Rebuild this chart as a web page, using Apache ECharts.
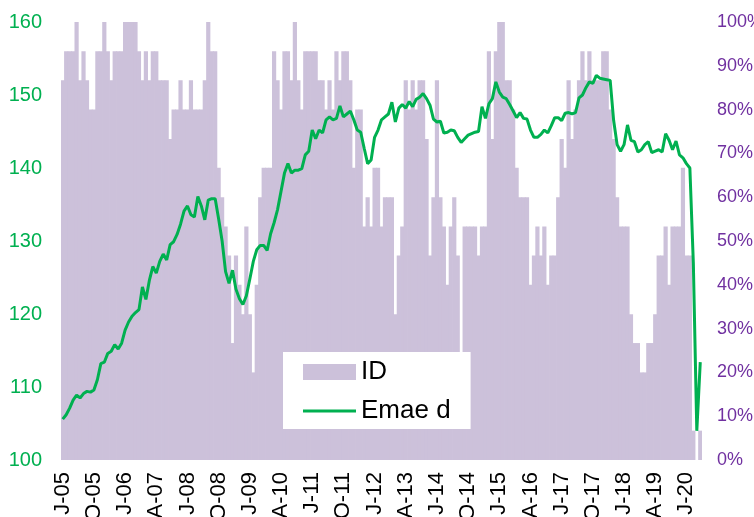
<!DOCTYPE html>
<html>
<head>
<meta charset="utf-8">
<script src="https://cdn.jsdelivr.net/npm/echarts@6/dist/echarts.min.js"></script>
<style>
html,body{margin:0;padding:0;background:#fff;}
#chart{width:754px;height:517px;}
</style>
</head>
<body>
<div id="chart"></div>
<script>
// Month categories Jan-2005 .. May-2020 (first letter of month + 2-digit year)
const monthLetters = ['J','F','M','A','M','J','J','A','S','O','N','D'];
const startYear = 2005;
const monthCount = 185;
const categories = [];
for (let k = 0; k < monthCount; k++) {
  const yy = (startYear + Math.floor(k / 12)) % 100;
  categories.push(monthLetters[k % 12] + '-' + String(yy).padStart(2, '0'));
}

// ID (diffusion index, %), right axis
const idValues = [
  86.7,93.3,93.3,93.3,100,86.7,93.3,86.7,80,80,
  93.3,93.3,100,93.3,86.7,93.3,93.3,93.3,100,100,
  100,100,93.3,86.7,93.3,86.7,93.3,93.3,86.7,86.7,
  86.7,73.3,80,80,86.7,80,80,86.7,80,80,
  80,86.7,100,93.3,93.3,66.7,60,53.3,46.7,26.7,
  46.7,40,33.3,53.3,33.3,20,40,60,66.7,66.7,
  66.7,93.3,86.7,80,93.3,93.3,86.7,100,86.7,80,
  93.3,93.3,93.3,93.3,86.7,86.7,80,86.7,80,93.3,
  86.7,93.3,93.3,86.7,66.7,80,80,53.3,60,53.3,
  66.7,66.7,53.3,60,60,60,33.3,46.7,53.3,86.7,
  80,86.7,80,86.7,86.7,73.3,46.7,60,86.7,60,
  53.3,40,53.3,60,46.7,20,53.3,53.3,53.3,53.3,
  46.7,53.3,53.3,93.3,73.3,93.3,100,100,86.7,86.7,
  80,66.7,60,60,60,40,46.7,53.3,46.7,53.3,
  40,46.7,46.7,60,73.3,66.7,86.7,73.3,80,86.7,
  93.3,86.7,93.3,86.7,86.7,86.7,93.3,93.3,80,73.3,
  60,53.3,53.3,53.3,33.3,26.7,26.7,20,20,26.7,
  26.7,33.3,46.7,46.7,53.3,40,53.3,53.3,53.3,66.7,
  46.7,46.7,6.7,0,6.7
];

// Emae desestacionalizado, left axis
const emaeValues = [
  105.6,106.2,107.1,108.2,108.9,108.5,109.1,109.4,109.3,109.6,
  111.0,113.2,113.4,114.6,114.9,115.8,115.2,116.0,117.8,118.9,
  119.7,120.2,120.6,123.7,122.0,124.6,126.5,125.6,127.2,128.2,
  127.4,129.5,129.9,130.9,132.3,134.1,134.8,133.6,133.3,136.1,
  134.8,132.9,135.6,135.8,135.8,133.0,130.0,125.8,124.2,126.0,
  123.4,122.1,121.3,122.5,124.8,127.2,128.8,129.4,129.4,128.7,
  131.0,132.5,134.3,136.8,139.3,140.6,139.3,139.7,139.7,139.9,
  141.8,142.3,145.2,144.0,145.2,144.8,146.6,147.0,146.6,146.8,
  148.5,147.0,147.4,147.8,146.6,145.2,144.9,142.7,140.6,141.1,
  144.2,145.2,146.6,147.0,147.4,149.0,146.3,148.2,148.7,148.2,
  149.1,148.4,149.4,149.7,150.2,149.5,148.6,146.7,146.3,146.4,
  144.8,144.9,145.2,145.1,144.2,143.5,144.0,144.5,144.7,144.9,
  145.0,148.4,146.8,148.8,149.5,151.8,150.4,149.7,149.5,148.7,
  147.8,146.9,147.6,146.8,146.7,145.2,144.2,144.2,144.6,145.2,
  144.8,145.8,146.9,146.9,146.5,147.5,147.6,147.4,147.6,149.6,
  150.0,151.0,151.8,151.6,152.7,152.3,152.2,152.1,152.0,146.5,
  143.2,142.3,143.2,145.9,143.8,143.6,142.2,142.5,143.2,143.6,
  142.1,142.3,142.5,142.2,144.7,143.8,142.5,143.7,141.8,141.4,
  140.6,140.0,127.0,104.0,113.4
];

const leftTicks = {min: 100, max: 160, step: 10};
const rightTicks = {min: 0, max: 100, step: 10};
const seriesNames = ['ID', 'Emae d'];

const BAR_COLOR = '#CCC1DA';
const LINE_COLOR = '#00B050';
const FONT = '"Liberation Sans", Arial, sans-serif';
const chart = echarts.init(document.getElementById('chart'), null, {renderer: 'canvas'});
chart.setOption({
  animation: false,
  backgroundColor: '#ffffff',
  grid: {left: 61, right: 52, top: 22, bottom: 57, containLabel: false, outerBoundsMode: 'none'},
  legend: {
    orient: 'vertical',
    left: 283, top: 352,
    width: 189,
    backgroundColor: '#ffffff',
    padding: [7, 20, 5, 20],
    itemWidth: 53, itemHeight: 16, itemGap: 13,
    symbolKeepAspect: true,
    textStyle: {fontSize: 26, color: '#000', fontFamily: FONT, lineHeight: 26},
    data: [
      {name: seriesNames[0], icon: 'rect'},
      {name: seriesNames[1], icon: 'path://M0,0L53,0L53,3L0,3Z'}
    ]
  },
  xAxis: {
    type: 'category',
    data: categories,
    boundaryGap: true,
    axisLine: {show: false},
    axisTick: {show: false},
    splitLine: {show: false},
    axisLabel: {
      interval: 8, rotate: 90, margin: 12,
      fontSize: 22, color: '#000', fontFamily: FONT
    }
  },
  yAxis: [
    {
      type: 'value', position: 'left',
      min: leftTicks.min, max: leftTicks.max, interval: leftTicks.step,
      axisLine: {show: false}, axisTick: {show: false}, splitLine: {show: false},
      axisLabel: {fontSize: 20, color: LINE_COLOR, fontFamily: FONT, margin: 19}
    },
    {
      type: 'value', position: 'right',
      min: rightTicks.min, max: rightTicks.max, interval: rightTicks.step,
      axisLine: {show: false}, axisTick: {show: false}, splitLine: {show: false},
      axisLabel: {fontSize: 18, color: '#7030A0', fontFamily: FONT, margin: 15, formatter: '{value}%'}
    }
  ],
  series: [
    {
      name: seriesNames[0], type: 'bar', yAxisIndex: 1,
      data: idValues,
      barWidth: 4.2,
      itemStyle: {color: BAR_COLOR},
      z: 1
    },
    {
      name: seriesNames[1], type: 'line', yAxisIndex: 0,
      data: emaeValues,
      symbol: 'none', showSymbol: false,
      lineStyle: {color: LINE_COLOR, width: 3},
      itemStyle: {color: LINE_COLOR},
      z: 3
    }
  ]
});
</script>
</body>
</html>
